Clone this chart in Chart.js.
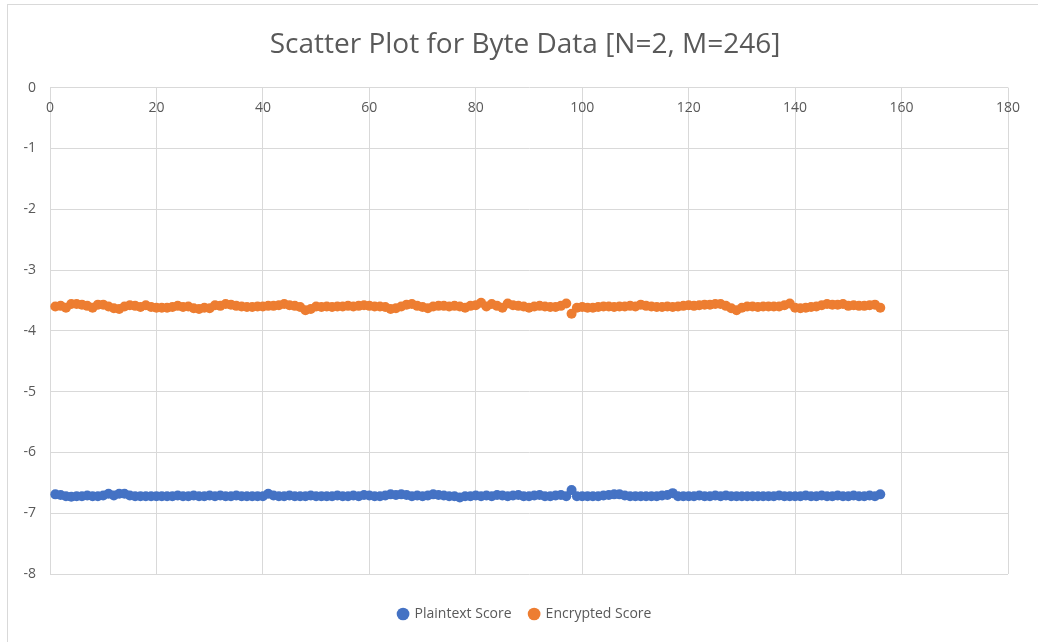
<!DOCTYPE html>
<html>
<head>
<meta charset="utf-8">
<script src="https://cdn.jsdelivr.net/npm/chart.js@4.4.1/dist/chart.umd.min.js"></script>
<style>
  html, body { margin: 0; padding: 0; background: #ffffff; }
  #frame { position: absolute; left: 7px; top: 4px; width: 1040px; height: 650px; border-left: 1px solid #d9d9d9; border-top: 1px solid #d9d9d9; box-sizing: border-box; }
  #wrap { position: absolute; left: 0; top: 0; width: 1038px; height: 642px; }
</style>
</head>
<body>
<div id="frame"></div>
<div id="wrap"><canvas id="c" width="1038" height="642"></canvas></div>
<script>
const chartTitle = "Scatter Plot for Byte Data [N=2, M=246]";
const seriesNames = ["Plaintext Score", "Encrypted Score"];
const xTickValues = [0, 20, 40, 60, 80, 100, 120, 140, 160, 180];
const yTickValues = [0, -1, -2, -3, -4, -5, -6, -7, -8];

const plaintextScore = [
  -6.69,-6.70,-6.72,-6.73,-6.72,-6.72,-6.71,-6.72,-6.72,-6.71,
  -6.68,-6.71,-6.68,-6.68,-6.71,-6.72,-6.72,-6.72,-6.72,-6.72,
  -6.72,-6.72,-6.72,-6.71,-6.72,-6.72,-6.71,-6.72,-6.72,-6.71,
  -6.72,-6.71,-6.72,-6.72,-6.71,-6.72,-6.72,-6.72,-6.72,-6.72,
  -6.68,-6.71,-6.72,-6.72,-6.71,-6.72,-6.72,-6.72,-6.71,-6.72,
  -6.72,-6.72,-6.72,-6.71,-6.72,-6.72,-6.71,-6.72,-6.70,-6.71,
  -6.72,-6.72,-6.71,-6.69,-6.70,-6.69,-6.70,-6.72,-6.71,-6.72,
  -6.71,-6.69,-6.70,-6.71,-6.72,-6.72,-6.74,-6.72,-6.72,-6.71,
  -6.72,-6.71,-6.72,-6.70,-6.71,-6.72,-6.71,-6.70,-6.72,-6.72,
  -6.71,-6.70,-6.72,-6.72,-6.71,-6.70,-6.72,-6.62,-6.72,-6.72,
  -6.72,-6.72,-6.72,-6.71,-6.70,-6.69,-6.69,-6.71,-6.72,-6.72,
  -6.72,-6.72,-6.72,-6.72,-6.71,-6.70,-6.67,-6.72,-6.72,-6.72,
  -6.72,-6.71,-6.72,-6.72,-6.71,-6.72,-6.71,-6.72,-6.72,-6.72,
  -6.72,-6.72,-6.72,-6.72,-6.72,-6.72,-6.71,-6.72,-6.72,-6.72,
  -6.72,-6.71,-6.72,-6.72,-6.71,-6.72,-6.72,-6.71,-6.72,-6.72,
  -6.71,-6.72,-6.72,-6.71,-6.72,-6.69
];

const encryptedScore = [
  -3.60,-3.59,-3.62,-3.56,-3.56,-3.57,-3.59,-3.62,-3.57,-3.57,
  -3.60,-3.63,-3.64,-3.60,-3.58,-3.59,-3.61,-3.58,-3.61,-3.62,
  -3.62,-3.62,-3.61,-3.59,-3.61,-3.60,-3.63,-3.64,-3.62,-3.63,
  -3.58,-3.59,-3.56,-3.57,-3.59,-3.60,-3.61,-3.61,-3.60,-3.60,
  -3.59,-3.59,-3.58,-3.56,-3.58,-3.59,-3.61,-3.66,-3.64,-3.60,
  -3.61,-3.60,-3.61,-3.60,-3.60,-3.59,-3.60,-3.59,-3.58,-3.59,
  -3.60,-3.60,-3.61,-3.64,-3.63,-3.60,-3.57,-3.56,-3.59,-3.61,
  -3.63,-3.60,-3.59,-3.59,-3.60,-3.59,-3.60,-3.62,-3.59,-3.58,
  -3.54,-3.60,-3.56,-3.59,-3.62,-3.55,-3.58,-3.59,-3.60,-3.62,
  -3.60,-3.59,-3.60,-3.61,-3.61,-3.59,-3.55,-3.72,-3.62,-3.61,
  -3.62,-3.62,-3.61,-3.60,-3.60,-3.61,-3.60,-3.60,-3.59,-3.60,
  -3.57,-3.59,-3.60,-3.61,-3.61,-3.60,-3.61,-3.60,-3.59,-3.58,
  -3.59,-3.58,-3.57,-3.57,-3.56,-3.56,-3.59,-3.63,-3.66,-3.62,
  -3.60,-3.60,-3.61,-3.60,-3.60,-3.60,-3.60,-3.58,-3.55,-3.62,
  -3.63,-3.62,-3.61,-3.60,-3.58,-3.56,-3.57,-3.57,-3.56,-3.59,
  -3.58,-3.59,-3.59,-3.58,-3.57,-3.62
];

const toPoints = arr => arr.map((v, i) => ({ x: i + 1, y: v }));

const FONT = "'Open Sans', 'Liberation Sans', sans-serif";
const TEXT = "#595959";
const GRID = "#d9d9d9";

// Axis tick labels: x labels sit just below the top axis line (x axis crosses at y = 0)
const axisLabels = {
  id: 'axisLabels',
  afterDraw(chart) {
    const xs = chart.scales.x, ys = chart.scales.y;
    const ctx = chart.ctx;
    ctx.save();
    ctx.fillStyle = TEXT;
    ctx.font = "14px " + FONT;
    ctx.textBaseline = 'middle';
    ctx.textAlign = 'center';
    const yPix = ys.getPixelForValue(0) + 20;
    xTickValues.forEach(v => {
      ctx.fillText(String(v), xs.getPixelForValue(v), yPix);
    });
    ctx.textAlign = 'right';
    yTickValues.forEach(v => {
      ctx.fillText(String(v), xs.left - 14, ys.getPixelForValue(v));
    });
    ctx.restore();
  }
};

new Chart(document.getElementById('c'), {
  type: 'scatter',
  data: {
    datasets: [
      { label: seriesNames[0], data: toPoints(plaintextScore), backgroundColor: '#4472C4', borderColor: '#4472C4', pointRadius: 5, pointHoverRadius: 5, borderWidth: 0 },
      { label: seriesNames[1], data: toPoints(encryptedScore), backgroundColor: '#ED7D31', borderColor: '#ED7D31', pointRadius: 5, pointHoverRadius: 5, borderWidth: 0 }
    ]
  },
  options: {
    responsive: false,
    animation: false,
    devicePixelRatio: 1,
    layout: { padding: { left: 42, right: 30, top: 0, bottom: 11 } },
    plugins: {
      title: {
        display: true,
        text: chartTitle,
        color: TEXT,
        font: { family: FONT, size: 28, weight: 'normal', lineHeight: 1.2 },
        padding: { top: 28, bottom: 26 }
      },
      legend: {
        display: true,
        position: 'bottom',
        labels: {
          usePointStyle: true,
          pointStyle: 'circle',
          boxWidth: 9,
          boxHeight: 9,
          padding: 18,
          color: TEXT,
          font: { family: FONT, size: 14 }
        }
      },
      tooltip: { enabled: false }
    },
    scales: {
      x: {
        type: 'linear',
        position: 'bottom',
        min: 0, max: 180,
        afterBuildTicks(scale) { scale.ticks = xTickValues.map(v => ({ value: v })); },
        ticks: { display: false },
        grid: { color: GRID, lineWidth: 1, drawTicks: false },
        border: { display: false },
        afterFit(scale) { scale.height = 15; }
      },
      y: {
        type: 'linear',
        min: -8, max: 0,
        afterBuildTicks(scale) { scale.ticks = yTickValues.map(v => ({ value: v })); },
        ticks: { display: false },
        grid: { color: GRID, lineWidth: 1, drawTicks: false },
        border: { display: true, color: GRID },
        afterFit(scale) { scale.width = 8; }
      }
    }
  },
  plugins: [axisLabels]
});
</script>
</body>
</html>
